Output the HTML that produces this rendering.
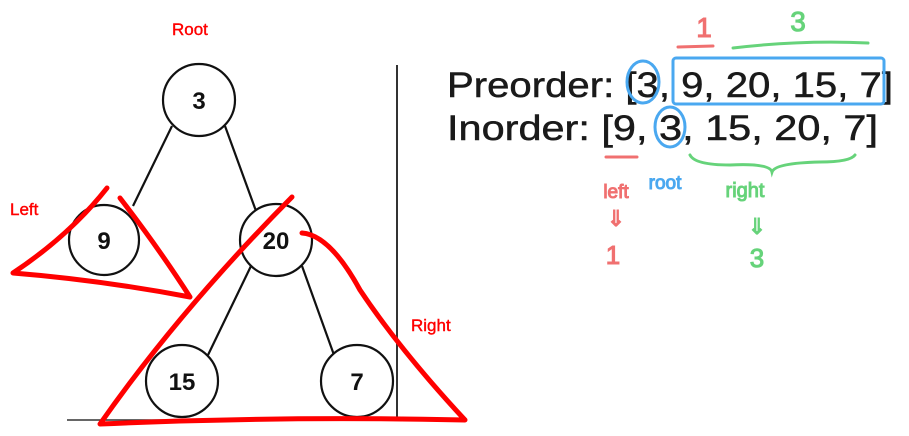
<!DOCTYPE html>
<html><head><meta charset="utf-8"><style>html,body{margin:0;padding:0;background:#fff;}svg{display:block}</style></head>
<body>
<svg width="909" height="436" viewBox="0 0 909 436" xmlns="http://www.w3.org/2000/svg" font-family="Liberation Sans, sans-serif">
<rect width="909" height="436" fill="#fff"/>
<g stroke="#111" stroke-width="2.2" fill="none">
<line x1="172" y1="126" x2="133" y2="206"/>
<line x1="225" y1="126" x2="256" y2="211"/>
<line x1="251" y1="266" x2="208" y2="355"/>
<line x1="302" y1="266" x2="334" y2="355"/>
</g>
<g stroke="#111" stroke-width="2.2" fill="#fff">
<circle cx="199" cy="100" r="36"/>
<circle cx="104" cy="240" r="35"/>
<circle cx="276" cy="240" r="36"/>
<circle cx="182" cy="381" r="36"/>
<circle cx="357" cy="381" r="36"/>
</g>
<g font-weight="bold" font-size="24" text-anchor="middle" fill="#111">
<text x="199" y="109">3</text>
<text x="104" y="249">9</text>
<text x="276" y="249">20</text>
<text x="182" y="390">15</text>
<text x="357" y="390">7</text>
</g>
<line x1="397" y1="65" x2="397" y2="418" stroke="#333" stroke-width="2"/>
<line x1="67" y1="420" x2="397" y2="420" stroke="#333" stroke-width="1.5"/>
<g stroke="#f00" stroke-width="5" fill="none" stroke-linecap="round" stroke-linejoin="round">
<path d="M107 188 Q70 235 13 273 Q100 280 190 297 Q160 250 120 198"/>
<path d="M292 197 Q180 310 100 424 Q280 416 465 420 Q400 350 360 290 Q330 235 302 233"/>
</g>
<g fill="#f00" font-size="17" stroke="#f00" stroke-width="0.4">
<text x="172" y="35">Root</text>
<text x="10" y="215">Left</text>
<text x="411" y="331">Right</text>
</g>
<g fill="#1a1a1a" font-size="35" stroke="#1a1a1a" stroke-width="0.5">
<text x="447" y="97" textLength="446" lengthAdjust="spacingAndGlyphs">Preorder: [3, 9, 20, 15, 7]</text>
<text x="447" y="140" textLength="431" lengthAdjust="spacingAndGlyphs">Inorder: [9, 3, 15, 20, 7]</text>
</g>
<g stroke="#4aa8f0" stroke-width="3" fill="none">
<rect x="673" y="58" width="211" height="46" rx="3"/>
<ellipse cx="643" cy="82" rx="16" ry="21"/>
<ellipse cx="670" cy="127" rx="15" ry="20"/>
</g>
<g stroke="#f07070" stroke-width="3" fill="none" stroke-linecap="round">
<line x1="678" y1="47" x2="713" y2="46"/>
<line x1="606" y1="157" x2="637" y2="157"/>
</g>
<g stroke="#66d37a" stroke-width="3" fill="none" stroke-linecap="round">
<path d="M733 48 Q800 40 868 43"/>
<path d="M690 155 Q695 165 730 165 Q770 163 772 172 Q775 163 820 162 Q850 162 855 155"/>
</g>
<g fill="#f07070" text-anchor="middle" stroke="#f07070" stroke-width="1">
<text x="704" y="37" font-size="28">1</text>
<text x="616" y="198" font-size="19">left</text>
<text x="616" y="226" font-size="22">⇓</text>
<text x="613" y="264" font-size="26">1</text>
</g>
<text x="665" y="189" fill="#4aa8f0" stroke="#4aa8f0" stroke-width="1" font-size="19" text-anchor="middle">root</text>
<g fill="#66d37a" text-anchor="middle" stroke="#66d37a" stroke-width="1">
<text x="798" y="31" font-size="28">3</text>
<text x="745" y="197" font-size="20">right</text>
<text x="757" y="234" font-size="22">⇓</text>
<text x="757" y="267" font-size="26">3</text>
</g>
</svg>
</body></html>
